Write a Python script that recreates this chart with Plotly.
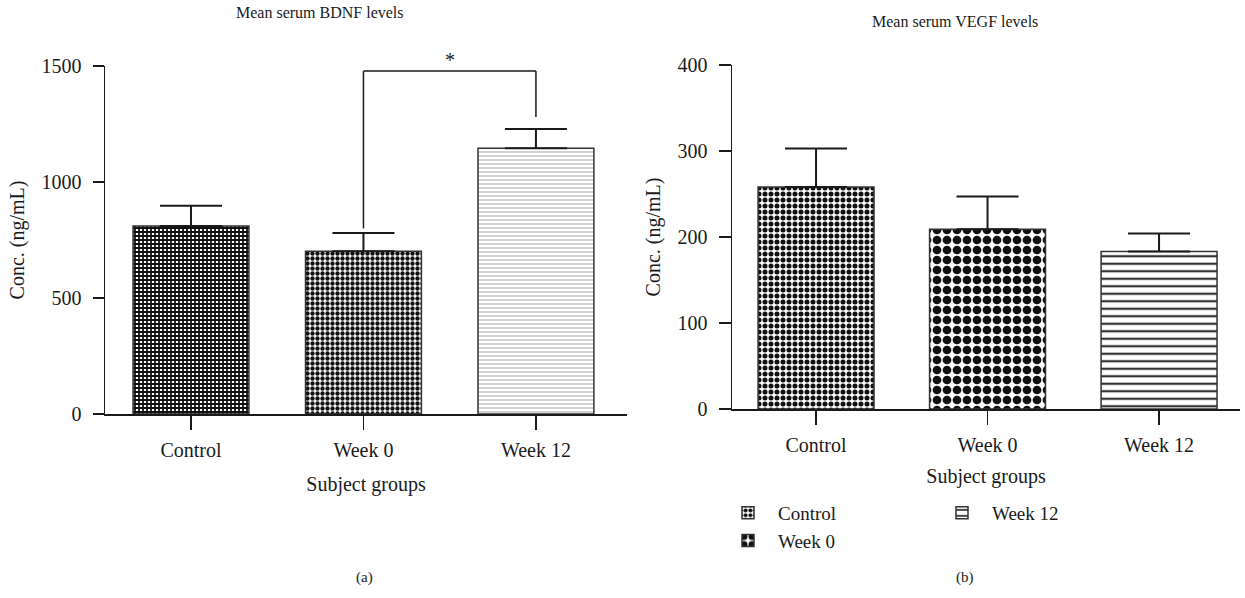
import plotly.graph_objects as go

groups = ["Control", "Week 0", "Week 12"]
bdnf_mean = [810, 702, 1145]
bdnf_err = [88, 78, 83]
vegf_mean = [258, 209, 183]
vegf_err = [45, 38, 21]
bdnf_ticks = [0, 500, 1000, 1500]
vegf_ticks = [0, 100, 200, 300, 400]

W, H = 1245, 598
FONT = "Liberation Serif"
INK = "#1a1a1a"

bdnf_patterns = [
    dict(shape="+", size=4, solidity=0.7, fgcolor="#111", bgcolor="#fff", fillmode="replace"),
    dict(shape=".", size=5, solidity=0.6, fgcolor="#111", bgcolor="#fff", fillmode="replace"),
    dict(shape="-", size=4, solidity=0.3, fgcolor="#b5b5b5", bgcolor="#fff", fillmode="replace"),
]
vegf_patterns = [
    dict(shape=".", size=6, solidity=0.55, fgcolor="#111", bgcolor="#fff", fillmode="replace"),
    dict(shape=".", size=10, solidity=0.6, fgcolor="#111", bgcolor="#fff", fillmode="replace"),
    dict(shape="-", size=7.5, solidity=0.3, fgcolor="#333", bgcolor="#fff", fillmode="replace"),
]
legend_of = {"Control": "legend", "Week 0": "legend", "Week 12": "legend2"}

fig = go.Figure()
for i, g in enumerate(groups):
    fig.add_trace(go.Bar(
        x=[g], y=[bdnf_mean[i]], xaxis="x", yaxis="y", width=0.672,
        marker=dict(color="#fff", pattern=bdnf_patterns[i], line=dict(color="#333", width=1.5)),
        error_y=dict(type="data", symmetric=False, array=[bdnf_err[i]], arrayminus=[0],
                     color=INK, thickness=2, width=31),
        showlegend=False, hoverinfo="skip"))
for i, g in enumerate(groups):
    fig.add_trace(go.Bar(
        x=[g], y=[vegf_mean[i]], xaxis="x2", yaxis="y2", width=0.676, name=g,
        legend=legend_of[g],
        marker=dict(color="#fff", pattern=vegf_patterns[i], line=dict(color="#333", width=1.5)),
        error_y=dict(type="data", symmetric=False, array=[vegf_err[i]], arrayminus=[0],
                     color=INK, thickness=2, width=31),
        showlegend=True, hoverinfo="skip"))

TF = dict(family=FONT, size=20, color=INK)
axis_common = dict(showline=True, linecolor=INK, linewidth=1.5, ticks="outside",
                   tickcolor=INK, tickwidth=1.5, showgrid=False, zeroline=False,
                   automargin=False, tickfont=TF)
LEG = dict(orientation="v", xanchor="left", yanchor="top", traceorder="normal",
           font=dict(family=FONT, size=19, color=INK), itemwidth=50,
           tracegroupgap=0, bgcolor="rgba(0,0,0,0)")

fig.update_layout(
    template="none",
    width=W, height=H, margin=dict(l=0, r=0, t=0, b=0, autoexpand=False),
    paper_bgcolor="#fff", plot_bgcolor="#fff",
    font=dict(family=FONT, size=18, color=INK),
    barmode="overlay",
    xaxis=dict(domain=[105 / W, 627 / W], anchor="y", type="category",
               categoryorder="array", categoryarray=groups,
               range=[-0.4986, 2.528], ticklen=14, ticklabelstandoff=3,
               title=dict(text="Subject groups", standoff=17, font=TF),
               **axis_common),
    yaxis=dict(domain=[1 - 414 / H, 1 - 66 / H], anchor="x", range=[0, 1500],
               tickvals=bdnf_ticks, ticklen=11, ticklabelstandoff=7,
               title=dict(text="Conc. (ng/mL)", standoff=11, font=TF),
               **axis_common),
    xaxis2=dict(domain=[732 / W, 1240 / W], anchor="y2", type="category",
                categoryorder="array", categoryarray=groups,
                range=[-0.49, 2.472], ticklen=14, ticklabelstandoff=3,
                title=dict(text="Subject groups", standoff=14, font=TF),
                **axis_common),
    yaxis2=dict(domain=[1 - 409 / H, 1 - 65 / H], anchor="x2", range=[0, 400],
                tickvals=vegf_ticks, ticklen=12, ticklabelstandoff=7,
                title=dict(text="Conc. (ng/mL)", standoff=11, font=TF),
                **axis_common),
    legend=dict(x=718 / W, y=1 - 494 / H, **LEG),
    legend2=dict(x=932 / W, y=1 - 494 / H, **LEG),
    showlegend=True,
)

# significance bracket between Week 0 and Week 12 (BDNF)
br_top = 1478
fig.add_shape(type="line", xref="x", yref="y", x0="Week 0", x1="Week 0", y0=800, y1=br_top,
              line=dict(color=INK, width=1.5))
fig.add_shape(type="line", xref="x", yref="y", x0="Week 0", x1="Week 12", y0=br_top, y1=br_top,
              line=dict(color=INK, width=1.5))
fig.add_shape(type="line", xref="x", yref="y", x0="Week 12", x1="Week 12", y0=br_top, y1=1280,
              line=dict(color=INK, width=1.5))
fig.add_annotation(x=1.5, y=br_top, xref="x", yref="y", text="*", showarrow=False,
                   yanchor="bottom", yshift=-2, font=dict(family=FONT, size=20, color=INK))

def label(txt, px, py, size):
    fig.add_annotation(x=px / W, y=1 - py / H, xref="paper", yref="paper", text=txt,
                       xanchor="center", yanchor="middle", showarrow=False,
                       font=dict(family=FONT, size=size, color=INK))

label("Mean serum BDNF levels", 320, 13, 16)
label("Mean serum VEGF levels", 955, 22, 16)
label("(a)", 364, 577, 15)
label("(b)", 965, 577, 15)

fig.write_html("out.html", config={"displayModeBar": False, "staticPlot": True},
               post_script="document.body.style.margin='0px';")
